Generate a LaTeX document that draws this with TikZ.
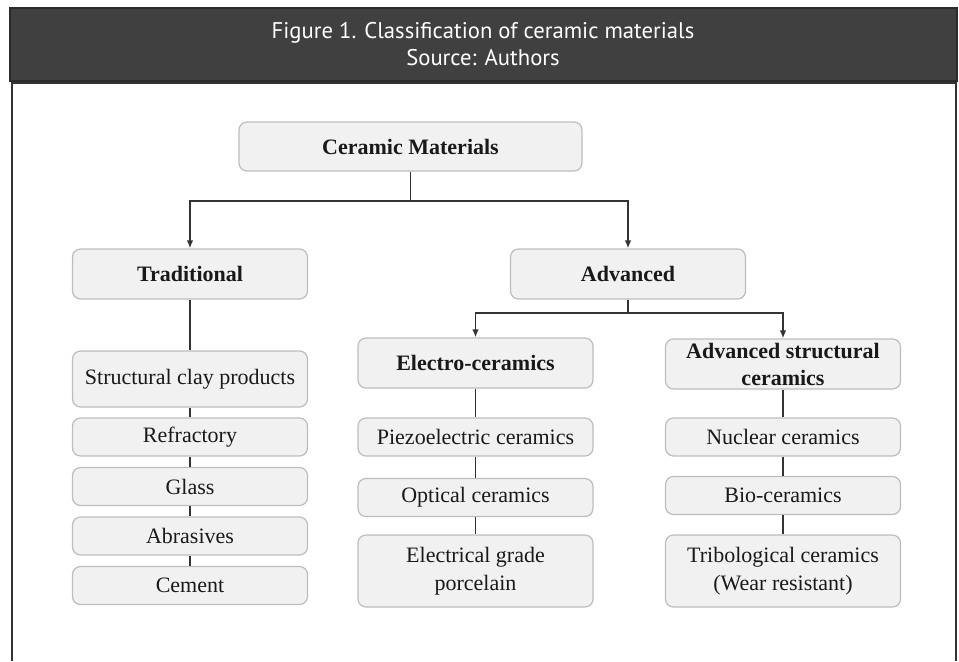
\documentclass[tikz,border=0pt]{standalone}
\usepackage{fontspec}
\setmainfont{Liberation Serif}
\newfontfamily\capfont{PT Sans}
\usetikzlibrary{arrows.meta}
\definecolor{boxfill}{HTML}{F1F1F1}
\definecolor{boxline}{HTML}{BDBDBD}
\definecolor{linkcol}{HTML}{333333}
\definecolor{headfill}{HTML}{404040}
\definecolor{headline}{HTML}{2B2B2B}

\begin{document}
\begin{tikzpicture}[x=0.75pt,y=-0.75pt,
    item/.style={draw=boxline, fill=boxfill, line width=0.9pt, rounded corners=6pt,
        inner sep=0pt, align=center, text=black!90, minimum width=176.25pt,
        minimum height=28.5pt, font=\fontsize{16.5}{19.5}\selectfont},
    group/.style={item, minimum height=37.5pt, font=\fontsize{16.5}{19.5}\selectfont\bfseries},
    link/.style={draw=linkcol, line width=1.4pt},
    arr/.style={link, -{Latex[length=6pt,width=5pt]}}]
    \useasboundingbox (0,0) rectangle (959,661);

    % Caption bar and frame
    \fill[headfill] (10,8) rectangle (957,81);
    \draw[headline, line width=1.2pt] (10,8) rectangle (957,81);
    \draw[linkcol, line width=1.5pt] (12,661) -- (12,83) -- (956,83) -- (956,661);
    \node[text=white, align=center, font=\capfont\fontsize{17}{20}\selectfont] (caption) at (483,44)
        {Figure 1. Classification of ceramic materials\\Source: Authors};

    % Root and first level
    \node[group, minimum width=257.25pt, minimum height=36.75pt] (cm) at (410.5,146.5) {Ceramic Materials};
    \node[group] (trad) at (190,274) {Traditional};
    \node[group] (adv) at (628,274) {Advanced};

    % Traditional column
    \node[item, minimum height=42pt] (clay) at (190,379) {Structural clay products};
    \node[item] (refr) at (190,437) {Refractory};
    \node[item] (glass) at (190,486.5) {Glass};
    \node[item] (abr) at (190,536) {Abrasives};
    \node[item] (cem) at (190,585.5) {Cement};

    % Electro-ceramics column
    \node[group] (elec) at (475.5,363) {Electro-ceramics};
    \node[item] (piezo) at (475.5,437) {Piezoelectric ceramics};
    \node[item] (optic) at (475.5,497.5) {Optical ceramics};
    \node[item, minimum height=54pt, font=\fontsize{16.5}{21}\selectfont] (porc) at (475.5,571)
        {Electrical grade\\porcelain};

    % Advanced structural column
    \node[group, font=\fontsize{16.5}{20.25}\selectfont\bfseries] (struct) at (783,364)
        {Advanced structural\\ceramics};
    \node[item] (nucl) at (783,437) {Nuclear ceramics};
    \node[item] (bio) at (783,495.5) {Bio-ceramics};
    \node[item, minimum height=54pt, font=\fontsize{16.5}{21}\selectfont] (trib) at (783,571)
        {Tribological ceramics\\(Wear resistant)};

    % Branching arrows
    \draw[arr] (cm.south) -- ++(0,29) -| (trad.north);
    \draw[arr] (cm.south) -- ++(0,29) -| (adv.north);
    \draw[arr] (adv.south) -- ++(0,13) -| (elec.north);
    \draw[arr] (adv.south) -- ++(0,13) -| (struct.north);

    % Plain links down the columns
    \draw[link] (trad) -- (clay);
    \draw[link] (clay) -- (refr);
    \draw[link] (refr) -- (glass);
    \draw[link] (glass) -- (abr);
    \draw[link] (abr) -- (cem);
    \draw[link] (elec) -- (piezo);
    \draw[link] (piezo) -- (optic);
    \draw[link] (optic) -- (porc);
    \draw[link] (struct) -- (nucl);
    \draw[link] (nucl) -- (bio);
    \draw[link] (bio) -- (trib);
\end{tikzpicture}
\end{document}
